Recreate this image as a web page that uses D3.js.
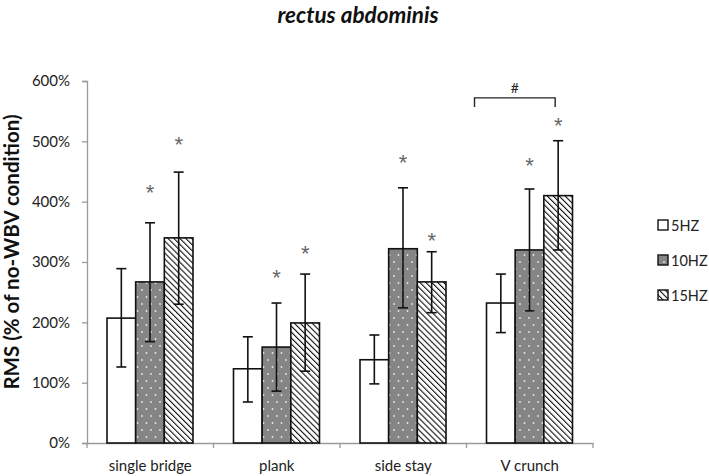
<!DOCTYPE html>
<html><head><meta charset="utf-8">
<script src="https://cdn.jsdelivr.net/npm/d3@7"></script>
<style>body{margin:0;background:#fff}svg{display:block}text{-webkit-font-smoothing:antialiased}</style>
</head><body>
<svg id="chart" width="709" height="476"></svg>
<script>
const categories = ["single bridge", "plank", "side stay", "V crunch"];
const seriesNames = ["5HZ", "10HZ", "15HZ"];
// mean values (%)
const hz5  = [207, 123, 138, 232];
const hz10 = [267, 159, 322, 320];
const hz15 = [340, 199, 267, 410];
// error bar upper / lower (%)
const hz5Hi  = [289, 176, 179, 280];
const hz5Lo  = [126,  68,  98, 183];
const hz10Hi = [365, 232, 423, 421];
const hz10Lo = [168,  86, 224, 219];
const hz15Hi = [449, 280, 317, 501];
const hz15Lo = [230, 119, 216, 320];
// significance star levels (%) ; null = none
const star5  = [null, null, null, null];
const star10 = [420, 279, 469, 464];
const star15 = [499, 318, 340, 531];
const yTicks = [0, 100, 200, 300, 400, 500, 600];
const bracketLevel = 572; // "#" bracket between 5HZ and 15HZ in V crunch
const bracketLegLevel = 557;

const FONT = "Lato";
const svg = d3.select("#chart");
const defs = svg.append("defs");
// dots pattern
const pd = defs.append("pattern").attr("id","dots").attr("patternUnits","userSpaceOnUse")
  .attr("width",9).attr("height",14);
pd.append("rect").attr("width",9).attr("height",14).attr("fill","#858585");
pd.append("circle").attr("cx",2.5).attr("cy",3).attr("r",0.9).attr("fill","#e8e8e8");
pd.append("circle").attr("cx",7).attr("cy",10).attr("r",0.9).attr("fill","#e8e8e8");
// hatch pattern (lines running top-left to bottom-right)
const ph = defs.append("pattern").attr("id","hatch").attr("patternUnits","userSpaceOnUse")
  .attr("width",4.2).attr("height",4.2).attr("patternTransform","rotate(-45)");
ph.append("rect").attr("width",4.2).attr("height",4.2).attr("fill","#fff");
ph.append("line").attr("x1",0).attr("y1",0).attr("x2",0).attr("y2",4.2)
  .attr("stroke","#111").attr("stroke-width",2.2);

const fills = ["#fff", "url(#dots)", "url(#hatch)"];
const means = [hz5, hz10, hz15];
const his = [hz5Hi, hz10Hi, hz15Hi];
const los = [hz5Lo, hz10Lo, hz15Lo];
const stars = [star5, star10, star15];

const y = d3.scaleLinear().domain([0, 600]).range([443, 81]);
const x0 = d3.scaleBand().domain(categories).range([87, 593]).padding(0);
const x1 = d3.scaleBand().domain(seriesNames).range([20, 106]).padding(0);

// y axis
const ya = svg.append("g").attr("transform","translate(87,0)")
  .call(d3.axisLeft(y).tickValues(yTicks).tickSize(5).tickFormat(d => d + "%"));
ya.select(".domain").attr("stroke","#9a9a9a").attr("stroke-width",1.3);
ya.selectAll(".tick line").attr("stroke","#9a9a9a").attr("stroke-width",1.3);
ya.selectAll(".tick text").attr("fill","#222").attr("font-family",FONT).attr("font-size",15).attr("x",-17);

// x axis
const xa = svg.append("g").attr("transform","translate(0,443)")
  .call(d3.axisBottom(x0).tickSize(0).tickSizeOuter(0));
xa.select(".domain").attr("stroke","#9a9a9a").attr("stroke-width",1.3);
xa.selectAll(".tick text").attr("fill","#222").attr("font-family",FONT).attr("font-size",15).attr("dy",0).attr("y",28);
const bounds = categories.map(c => x0(c)).concat([x0(categories[3]) + x0.bandwidth()]);
xa.selectAll(".sep").data(bounds).enter().append("line").attr("class","sep")
  .attr("x1",d=>d).attr("x2",d=>d).attr("y1",0).attr("y2",5)
  .attr("stroke","#9a9a9a").attr("stroke-width",1.3);

// bars
seriesNames.forEach((s, si) => {
  const g = svg.append("g");
  g.selectAll("rect").data(categories).enter().append("rect")
    .attr("x", c => x0(c) + x1(s))
    .attr("y", (c, i) => y(means[si][i]))
    .attr("width", x1.bandwidth())
    .attr("height", (c, i) => y(0) - y(means[si][i]))
    .attr("fill", fills[si]).attr("stroke", "#111").attr("stroke-width", 1.6);
  categories.forEach((c, i) => {
    const cx = x0(c) + x1(s) + x1.bandwidth() / 2;
    const eg = g.append("g").attr("stroke","#111").attr("stroke-width",1.6);
    eg.append("line").attr("x1",cx).attr("x2",cx).attr("y1",y(his[si][i])).attr("y2",y(los[si][i]));
    eg.append("line").attr("x1",cx-5).attr("x2",cx+5).attr("y1",y(his[si][i])).attr("y2",y(his[si][i]));
    eg.append("line").attr("x1",cx-5).attr("x2",cx+5).attr("y1",y(los[si][i])).attr("y2",y(los[si][i]));
    if (stars[si][i] != null) {
      g.append("text").attr("x",cx).attr("y",y(stars[si][i]) + 10)
        .attr("text-anchor","middle").attr("font-family","Liberation Sans").attr("font-size",22)
        .attr("fill","#666").text("*");
    }
  });
});

// bracket
const vc = categories[3];
const bx1 = x0(vc) + x1(seriesNames[0]) - 12;
const bx2 = x0(vc) + x1(seriesNames[2]) + x1.bandwidth() / 2 - 3;
svg.append("path")
  .attr("d", `M${bx1},${y(bracketLegLevel)}V${y(bracketLevel)}H${bx2}V${y(bracketLegLevel)}`)
  .attr("fill","none").attr("stroke","#222").attr("stroke-width",1.4);
svg.append("text").attr("x",(bx1+bx2)/2).attr("y",y(bracketLevel)-5)
  .attr("text-anchor","middle").attr("font-family",FONT).attr("font-size",14).attr("fill","#222").text("#");

// title
svg.append("text").attr("x",358).attr("y",23).attr("text-anchor","middle")
  .attr("font-family",FONT).attr("font-weight","bold").attr("font-style","italic")
  .attr("font-size",22.5).attr("fill","#111").text("rectus abdominis");

// y label
svg.append("text").attr("transform","translate(19,252) rotate(-90)").attr("text-anchor","middle")
  .attr("font-family",FONT).attr("font-weight","bold").attr("font-size",20.5).attr("fill","#111")
  .text("RMS (% of no-WBV condition)");

// legend
const legY = [225, 260, 295];
seriesNames.forEach((s, i) => {
  svg.append("rect").attr("x",658).attr("y",legY[i]-5).attr("width",10).attr("height",10)
    .attr("fill", fills[i]).attr("stroke","#111").attr("stroke-width",1.4);
  svg.append("text").attr("x",671).attr("y",legY[i]+5.5).attr("font-family",FONT)
    .attr("font-size",14.5).attr("fill","#222").text(s);
});
</script>
</body></html>
